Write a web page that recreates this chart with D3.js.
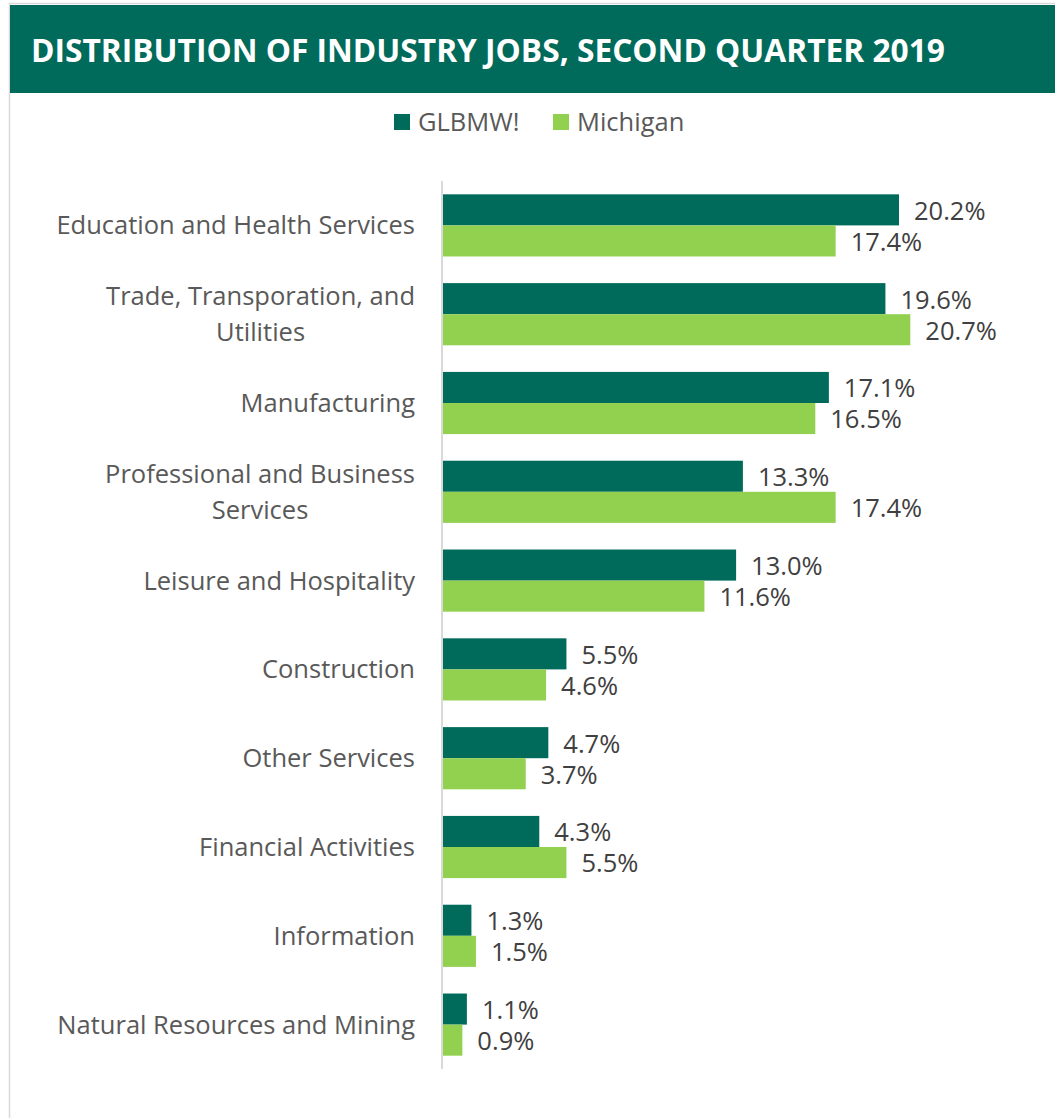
<!DOCTYPE html>
<html>
<head>
<meta charset="utf-8">
<script src="https://cdn.jsdelivr.net/npm/d3@7"></script>
<style>
  body { margin: 0; background: #fff; }
  svg { display: block; }
</style>
</head>
<body>
<svg id="chart" width="1055" height="1118"></svg>
<script>
const title = "DISTRIBUTION OF INDUSTRY JOBS, SECOND QUARTER 2019";
const seriesNames = ["GLBMW!", "Michigan"];
const categories = [
    ["Education and Health Services"],
    ["Trade, Transporation, and", "Utilities"],
    ["Manufacturing"],
    ["Professional and Business", "Services"],
    ["Leisure and Hospitality"],
    ["Construction"],
    ["Other Services"],
    ["Financial Activities"],
    ["Information"],
    ["Natural Resources and Mining"]
];
const glbmwValues = [20.2, 19.6, 17.1, 13.3, 13.0, 5.5, 4.7, 4.3, 1.3, 1.1];
const michiganValues = [17.4, 20.7, 16.5, 17.4, 11.6, 4.6, 3.7, 5.5, 1.5, 0.9];

const colors = ["#006A5B", "#92D050"];
const width = 1055, height = 1118;
const svg = d3.select("#chart");

// outer frame + header
svg.append("path")
    .attr("d", "M9.5,1118 V3.5 H1055")
    .attr("fill", "none")
    .attr("stroke", "#d9d9d9")
    .attr("stroke-width", 1.5);

svg.append("rect")
    .attr("x", 10).attr("y", 5)
    .attr("width", width - 10).attr("height", 88)
    .attr("fill", colors[0]);

svg.append("text")
    .attr("x", 31).attr("y", 62)
    .attr("font-family", "'Open Sans', sans-serif")
    .attr("font-weight", "bold")
    .attr("font-size", 32)
    .attr("fill", "#fff")
    .attr("textLength", 914)
    .attr("lengthAdjust", "spacingAndGlyphs")
    .text(title);

// legend
const legend = svg.append("g")
    .attr("font-family", "'Open Sans', sans-serif")
    .attr("font-size", 25.5)
    .attr("fill", "#595959");
const legendX = [394, 553];
seriesNames.forEach((name, i) => {
    legend.append("rect")
        .attr("x", legendX[i]).attr("y", 114)
        .attr("width", 16).attr("height", 16)
        .attr("fill", colors[i]);
    legend.append("text")
        .attr("x", legendX[i] + 24).attr("y", 122)
        .attr("dy", "0.35em")
        .text(name);
});

// scales
const y = d3.scaleBand()
    .domain(d3.range(categories.length))
    .range([181, 1069])
    .paddingInner(0.3)
    .paddingOuter(0.15);

const ySub = d3.scaleBand()
    .domain([0, 1])
    .range([0, y.bandwidth()]);

const x = d3.scaleLinear()
    .domain([0, 20.2])
    .range([442, 899]);

const rows = categories.map((c, i) => ({
    label: c,
    values: [glbmwValues[i], michiganValues[i]]
}));

const g = svg.append("g");

const groups = g.selectAll("g.cat")
    .data(rows)
    .enter().append("g")
    .attr("class", "cat")
    .attr("transform", (d, i) => `translate(0,${y(i)})`);

groups.selectAll("rect")
    .data(d => d.values)
    .enter().append("rect")
    .attr("x", x(0))
    .attr("y", (d, j) => ySub(j))
    .attr("width", d => x(d) - x(0))
    .attr("height", ySub.bandwidth())
    .attr("fill", (d, j) => colors[j]);

groups.selectAll("text.val")
    .data(d => d.values)
    .enter().append("text")
    .attr("class", "val")
    .attr("x", d => x(d) + 15)
    .attr("y", (d, j) => ySub(j) + ySub.bandwidth() / 2 + 1)
    .attr("dy", "0.35em")
    .attr("font-family", "'Open Sans', sans-serif")
    .attr("font-size", 25.5)
    .attr("fill", "#404040")
    .text(d => d.toFixed(1) + "%");

// category labels: right-aligned block, lines centred on each other
const lineH = 36;
groups.each(function(d) {
    const grp = d3.select(this);
    const t = grp.append("text")
        .attr("font-family", "'Open Sans', sans-serif")
        .attr("font-size", 25.5)
        .attr("fill", "#595959")
        .attr("text-anchor", "middle");
    const n = d.label.length;
    d.label.forEach((line, k) => {
        t.append("tspan")
            .attr("x", 0)
            .attr("y", y.bandwidth() / 2 + (k - (n - 1) / 2) * lineH)
            .attr("dy", "0.35em")
            .text(line);
    });
    const w = d3.max(t.selectAll("tspan").nodes(), s => s.getComputedTextLength());
    t.selectAll("tspan").attr("x", 415 - w / 2);
});

// axis line
svg.append("line")
    .attr("x1", x(0)).attr("x2", x(0))
    .attr("y1", 181).attr("y2", 1069)
    .attr("stroke", "#d9d9d9")
    .attr("stroke-width", 2);
</script>
</body>
</html>
